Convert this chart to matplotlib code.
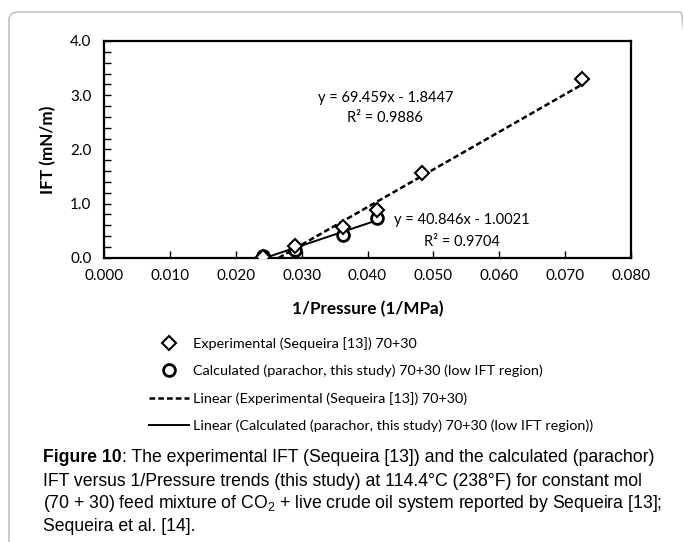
import matplotlib
matplotlib.use("Agg")
import matplotlib.pyplot as plt
import numpy as np
from matplotlib import font_manager
from matplotlib.patches import FancyBboxPatch

# 1/pressure (1/MPa) and IFT (mN/m)
inv_p_exp = [0.0242, 0.0290, 0.0363, 0.0415, 0.0483, 0.0725]
ift_exp = [0.02, 0.22, 0.57, 0.88, 1.56, 3.29]
inv_p_calc = [0.0242, 0.0290, 0.0363, 0.0415]
ift_calc = [0.03, 0.15, 0.41, 0.73]

# excel trendline coefficients (slope, intercept, R2)
fit_exp = (69.459, -1.8447, 0.9886)
fit_calc = (40.846, -1.0021, 0.9704)

x_ticks = [0.0, 0.01, 0.02, 0.03, 0.04, 0.05, 0.06, 0.07, 0.08]
y_ticks = [0.0, 1.0, 2.0, 3.0, 4.0]

names = {f.name for f in font_manager.fontManager.ttflist}
cap_font = "Liberation Sans Narrow" if "Liberation Sans Narrow" in names else "Liberation Sans"
chart_font = "Lato"

W, H = 683, 542
fig = plt.figure(figsize=(W / 100, H / 100), dpi=100)


def fx(px):
    return px / W


def fy(py):
    return 1 - py / H


# grey rounded frame around the figure block
frame = FancyBboxPatch((fx(9), fy(560)), fx(690) - fx(9), fy(12) - fy(560),
                       boxstyle="round,pad=0,rounding_size=0.014",
                       transform=fig.transFigure, facecolor="none",
                       edgecolor="#bdbdbd", linewidth=1.1, clip_on=False)
fig.patches.append(frame)

ax = fig.add_axes([fx(104), fy(257.7), fx(631) - fx(104), fy(41) - fy(257.7)])

ax.plot(inv_p_exp, ift_exp, linestyle="none", marker="D", markersize=6.8,
        markerfacecolor="white", markeredgecolor="black", markeredgewidth=1.5,
        zorder=4, label="Experimental (Sequeira [13]) 70+30")
ax.plot(inv_p_calc, ift_calc, linestyle="none", marker="o", markersize=8.5,
        markerfacecolor="white", markeredgecolor="black", markeredgewidth=2.0,
        zorder=3, label="Calculated (parachor, this study) 70+30 (low IFT region)")

xe = np.array([min(inv_p_exp), max(inv_p_exp)])
ax.plot(xe, fit_exp[0] * xe + fit_exp[1], color="black", linewidth=1.8,
        dashes=(2.3, 1.2), zorder=2,
        label="Linear (Experimental (Sequeira [13]) 70+30)")
xc = np.array([min(inv_p_calc), max(inv_p_calc)])
ax.plot(xc, fit_calc[0] * xc + fit_calc[1], color="black", linewidth=1.4,
        zorder=2,
        label="Linear (Calculated (parachor, this study) 70+30 (low IFT region))")

eq_size = 10.5
ax.text(0.0427, 2.95, "y = %.3fx - %.4f" % (fit_exp[0], -fit_exp[1]),
        ha="center", va="center", fontsize=eq_size, family=chart_font)
ax.text(0.0427, 2.58, "R² = %.4f" % fit_exp[2],
        ha="center", va="center", fontsize=eq_size, family=chart_font)
ax.text(0.0543, 0.70, "y = %.3fx - %.4f" % (fit_calc[0], -fit_calc[1]),
        ha="center", va="center", fontsize=eq_size, family=chart_font)
ax.text(0.0543, 0.29, "R² = %.4f" % fit_calc[2],
        ha="center", va="center", fontsize=eq_size, family=chart_font)

ax.set_xlim(0, 0.08)
ax.set_ylim(0, 4.0)
ax.set_xticks(x_ticks)
ax.set_xticklabels(["%.3f" % v for v in x_ticks])
ax.set_yticks(y_ticks)
ax.set_yticklabels(["%.1f" % v for v in y_ticks])
ax.set_yticks(np.arange(0, 4.01, 0.2), minor=True)
ax.tick_params(axis="both", which="both", direction="in", color="black",
               labelsize=11, width=1.0)
ax.tick_params(axis="x", which="major", length=5, pad=8)
ax.tick_params(axis="y", which="major", length=5, pad=9)
ax.tick_params(axis="y", which="minor", length=5)
for lab in ax.get_xticklabels() + ax.get_yticklabels():
    lab.set_family(chart_font)
for sp in ax.spines.values():
    sp.set_linewidth(1.6)

ax.set_xlabel("1/Pressure (1/MPa)", fontsize=12.3, fontweight="bold",
              family=chart_font, va="center")
ax.xaxis.set_label_coords(0.5, (257.7 - 309) / 216.7)
ax.set_ylabel("IFT (mN/m)", fontsize=12.3, fontweight="bold",
              family=chart_font, va="center")
ax.yaxis.set_label_coords((48 - 104) / 527, 0.5)

handles, labels = ax.get_legend_handles_labels()
leg_size = 10.4
fig.legend(handles, labels, loc="upper left",
           bbox_to_anchor=(fx(142), fy(330)), frameon=False,
           prop={"family": chart_font, "size": leg_size}, borderpad=0,
           handlelength=2.75, handletextpad=0.3, labelspacing=1.0,
           numpoints=1)

# caption, bold figure number then the running text
caption = [
    ": The experimental IFT (Sequeira [13]) and the calculated (parachor)",
    "IFT versus 1/Pressure trends (this study) at 114.4°C (238°F) for constant mol",
    "(70 + 30) feed mixture of CO$_2$ + live crude oil system reported by Sequeira [13];",
    "Sequeira et al. [14].",
]
plt.rcParams["mathtext.fontset"] = "custom"
plt.rcParams["mathtext.rm"] = cap_font
plt.rcParams["mathtext.it"] = cap_font
cap_size = 12.7
renderer = fig.canvas.get_renderer()
t0 = fig.text(fx(43), fy(458), "Figure 10", fontsize=cap_size, fontweight="bold",
              family=cap_font, ha="left", va="center")
bb = t0.get_window_extent(renderer)
fig.text(bb.x1 / W, fy(458), caption[0], fontsize=cap_size, family=cap_font,
         ha="left", va="center")
for i, line in enumerate(caption[1:]):
    fig.text(fx(43), fy(481 + 22.7 * i), line, fontsize=cap_size,
             family=cap_font, ha="left", va="center")

fig.savefig("out.png", dpi=100)
